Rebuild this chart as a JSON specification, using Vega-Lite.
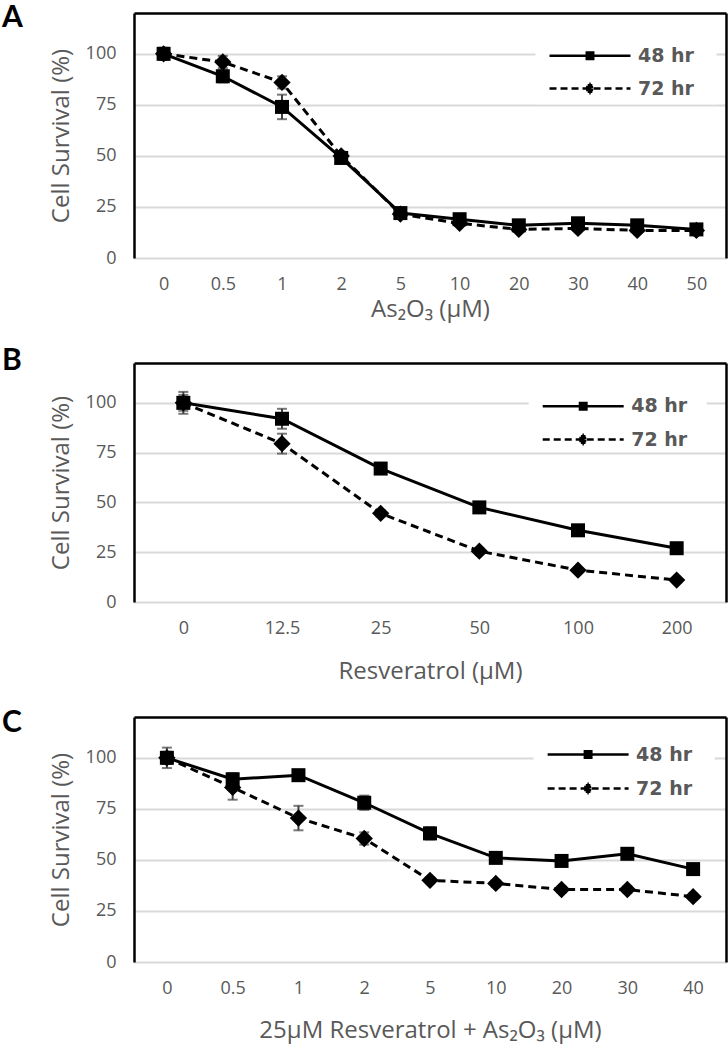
{
  "$schema": "https://vega.github.io/schema/vega-lite/v6.json",
  "background": "white",
  "padding": {"left": 2, "top": 2, "right": 2, "bottom": 2},
  "spacing": 25,
  "resolve": {
    "scale": {"shape": "independent", "strokeDash": "independent"},
    "legend": {"shape": "independent", "strokeDash": "independent"}
  },
  "datasets": {
    "dA": [
      {"x": "0", "series": "48 hr", "v": 100, "e": 3},
      {"x": "0.5", "series": "48 hr", "v": 89, "e": 3},
      {"x": "1", "series": "48 hr", "v": 74, "e": 6},
      {"x": "2", "series": "48 hr", "v": 49, "e": 2},
      {"x": "5", "series": "48 hr", "v": 22, "e": 2},
      {"x": "10", "series": "48 hr", "v": 19, "e": 1.5},
      {"x": "20", "series": "48 hr", "v": 16, "e": 1.5},
      {"x": "30", "series": "48 hr", "v": 17, "e": 1.5},
      {"x": "40", "series": "48 hr", "v": 16, "e": 1.5},
      {"x": "50", "series": "48 hr", "v": 14, "e": 1.5},
      {"x": "0", "series": "72 hr", "v": 100, "e": 2},
      {"x": "0.5", "series": "72 hr", "v": 96, "e": 3},
      {"x": "1", "series": "72 hr", "v": 86, "e": 3},
      {"x": "2", "series": "72 hr", "v": 50, "e": 2},
      {"x": "5", "series": "72 hr", "v": 21.5, "e": 1},
      {"x": "10", "series": "72 hr", "v": 17, "e": 1},
      {"x": "20", "series": "72 hr", "v": 14, "e": 1},
      {"x": "30", "series": "72 hr", "v": 14.5, "e": 1},
      {"x": "40", "series": "72 hr", "v": 13.5, "e": 1},
      {"x": "50", "series": "72 hr", "v": 13.5, "e": 1}
    ],
    "dB": [
      {"x": "0", "series": "48 hr", "v": 100, "e": 5.5},
      {"x": "12.5", "series": "48 hr", "v": 92, "e": 5},
      {"x": "25", "series": "48 hr", "v": 67, "e": 2},
      {"x": "50", "series": "48 hr", "v": 47.5, "e": 1.5},
      {"x": "100", "series": "48 hr", "v": 36, "e": 1.5},
      {"x": "200", "series": "48 hr", "v": 27, "e": 1.5},
      {"x": "0", "series": "72 hr", "v": 100, "e": 4},
      {"x": "12.5", "series": "72 hr", "v": 79.5, "e": 5},
      {"x": "25", "series": "72 hr", "v": 44.5, "e": 1.5},
      {"x": "50", "series": "72 hr", "v": 25.5, "e": 1.5},
      {"x": "100", "series": "72 hr", "v": 16, "e": 1},
      {"x": "200", "series": "72 hr", "v": 11, "e": 1}
    ],
    "dC": [
      {"x": "0", "series": "48 hr", "v": 100, "e": 5},
      {"x": "0.5", "series": "48 hr", "v": 89.5, "e": 3},
      {"x": "1", "series": "48 hr", "v": 91.5, "e": 2},
      {"x": "2", "series": "48 hr", "v": 78, "e": 3.5},
      {"x": "5", "series": "48 hr", "v": 63, "e": 3},
      {"x": "10", "series": "48 hr", "v": 51, "e": 2},
      {"x": "20", "series": "48 hr", "v": 49.5, "e": 2},
      {"x": "30", "series": "48 hr", "v": 53, "e": 2},
      {"x": "40", "series": "48 hr", "v": 45.5, "e": 2},
      {"x": "0", "series": "72 hr", "v": 100, "e": 3},
      {"x": "0.5", "series": "72 hr", "v": 85.5, "e": 6},
      {"x": "1", "series": "72 hr", "v": 70.5, "e": 6},
      {"x": "2", "series": "72 hr", "v": 60.5, "e": 3},
      {"x": "5", "series": "72 hr", "v": 40, "e": 1.5},
      {"x": "10", "series": "72 hr", "v": 38.5, "e": 1.5},
      {"x": "20", "series": "72 hr", "v": 35.5, "e": 1.5},
      {"x": "30", "series": "72 hr", "v": 35.5, "e": 1.5},
      {"x": "40", "series": "72 hr", "v": 32, "e": 1.5}
    ]
  },
  "vconcat": [
    {
      "width": 592,
      "height": 245,
      "title": {"text": "A", "anchor": "start", "frame": "group", "dx": -132, "offset": -19.5},
      "data": {"name": "dA"},
      "layer": [
        {
          "mark": {"type": "errorbar", "ticks": true, "color": "#404040", "size": 10, "thickness": 2, "rule": {"strokeWidth": 2}},
          "encoding": {
            "x": {"field": "x", "type": "ordinal", "axis": null},
            "y": {"field": "v", "type": "quantitative", "axis": null},
            "yError": {"field": "e"}
          }
        },
        {
          "transform": [{"filter": "datum.series == '48 hr'"}],
          "mark": {"type": "line", "color": "black", "strokeWidth": 3},
          "encoding": {
            "x": {"field": "x", "type": "ordinal", "scale": {"type": "point", "padding": 0.5, "domain": ["0", "0.5", "1", "2", "5", "10", "20", "30", "40", "50"]},
              "axis": {"orient": "bottom", "title": "As₂O₃ (µM)", "domain": false, "ticks": false, "grid": false, "labelAngle": 0, "labelFontSize": 18, "labelPadding": 17, "titleFontSize": 24, "titlePadding": 4}},
            "y": {"field": "v", "type": "quantitative", "scale": {"domain": [0, 120], "nice": false},
              "axis": {"orient": "left", "title": "Cell Survival (%)", "values": [0, 25, 50, 75, 100], "domainColor": "black", "domainWidth": 2.5, "ticks": false, "labelPadding": 18, "labelFontSize": 18, "titleFontSize": 24, "titlePadding": 12, "grid": true, "gridColor": "#d9d9d9", "gridWidth": 2}}
          }
        },
        {
          "transform": [{"filter": "datum.series == '72 hr'"}],
          "mark": {"type": "line", "color": "black", "strokeWidth": 3, "strokeDash": [8, 5]},
          "encoding": {
            "x": {"field": "x", "type": "ordinal", "axis": null},
            "y": {"field": "v", "type": "quantitative", "axis": null}
          }
        },
        {
          "transform": [{"filter": "datum.series == '48 hr'"}],
          "mark": {"type": "point", "shape": "square", "filled": true, "color": "black", "size": 196, "opacity": 1},
          "encoding": {
            "x": {"field": "x", "type": "ordinal", "axis": {"orient": "top", "labels": false, "ticks": false, "grid": false, "title": null, "domainColor": "black", "domainWidth": 2.5}},
            "y": {"field": "v", "type": "quantitative", "axis": {"orient": "right", "labels": false, "ticks": false, "grid": false, "title": null, "domainColor": "black", "domainWidth": 2.5}}
          }
        },
        {
          "transform": [{"filter": "datum.series == '72 hr'"}],
          "mark": {"type": "point", "shape": "diamond", "filled": true, "color": "black", "size": 300, "opacity": 1},
          "encoding": {
            "x": {"field": "x", "type": "ordinal", "axis": null},
            "y": {"field": "v", "type": "quantitative", "axis": null}
          }
        },
        {
          "mark": {"type": "point", "opacity": 0, "filled": false, "color": "black"},
          "encoding": {
            "x": {"field": "x", "type": "ordinal", "axis": null},
            "y": {"field": "v", "type": "quantitative", "axis": null},
            "shape": {"field": "series", "type": "nominal", "scale": {"domain": ["48 hr", "72 hr"], "range": ["M-5.06,0H5.06M-0.56,-0.4H0.56M-0.56,-0.2H0.56M-0.56,0.2H0.56M-0.56,0.4H0.56M14.5,0", "M-5.06,0H5.06M-0.09,-0.6H0.09M-0.29,-0.4H0.29M-0.49,-0.2H0.49M-0.69,0H0.69M-0.49,0.2H0.49M-0.29,0.4H0.29M-0.09,0.6H0.09M14.5,0"]},
              "legend": {"title": null, "orient": "none", "legendX": 401.5, "legendY": 28.3, "padding": 5, "fillColor": "white", "symbolSize": 256, "symbolStrokeWidth": 2.5, "symbolStrokeColor": "black", "symbolOpacity": 1, "symbolOffset": 40, "labelFont": "DejaVu Sans", "labelFontWeight": "bold", "labelFontSize": 19, "labelColor": "#595959", "labelOffset": 38.5, "rowPadding": 11.7}},
            "strokeDash": {"field": "series", "type": "nominal", "scale": {"domain": ["48 hr", "72 hr"], "range": [[1, 0], [7, 4]]}}
          }
        }
      ]
    },
    {
      "width": 592,
      "height": 239,
      "title": {"text": "B", "anchor": "start", "frame": "group", "dx": -132, "offset": -13.4},
      "data": {"name": "dB"},
      "layer": [
        {
          "mark": {"type": "errorbar", "ticks": true, "color": "#404040", "size": 10, "thickness": 2, "rule": {"strokeWidth": 2}},
          "encoding": {
            "x": {"field": "x", "type": "ordinal", "axis": null},
            "y": {"field": "v", "type": "quantitative", "axis": null},
            "yError": {"field": "e"}
          }
        },
        {
          "transform": [{"filter": "datum.series == '48 hr'"}],
          "mark": {"type": "line", "color": "black", "strokeWidth": 3},
          "encoding": {
            "x": {"field": "x", "type": "ordinal", "scale": {"type": "point", "padding": 0.5, "domain": ["0", "12.5", "25", "50", "100", "200"]},
              "axis": {"orient": "bottom", "title": "Resveratrol (µM)", "domain": false, "ticks": false, "grid": false, "labelAngle": 0, "labelFontSize": 18, "labelPadding": 17, "titleFontSize": 24, "titlePadding": 22}},
            "y": {"field": "v", "type": "quantitative", "scale": {"domain": [0, 120], "nice": false},
              "axis": {"orient": "left", "title": "Cell Survival (%)", "values": [0, 25, 50, 75, 100], "domainColor": "black", "domainWidth": 2.5, "ticks": false, "labelPadding": 18, "labelFontSize": 18, "titleFontSize": 24, "titlePadding": 12, "grid": true, "gridColor": "#d9d9d9", "gridWidth": 2}}
          }
        },
        {
          "transform": [{"filter": "datum.series == '72 hr'"}],
          "mark": {"type": "line", "color": "black", "strokeWidth": 3, "strokeDash": [8, 5]},
          "encoding": {
            "x": {"field": "x", "type": "ordinal", "axis": null},
            "y": {"field": "v", "type": "quantitative", "axis": null}
          }
        },
        {
          "transform": [{"filter": "datum.series == '48 hr'"}],
          "mark": {"type": "point", "shape": "square", "filled": true, "color": "black", "size": 196, "opacity": 1},
          "encoding": {
            "x": {"field": "x", "type": "ordinal", "axis": {"orient": "top", "labels": false, "ticks": false, "grid": false, "title": null, "domainColor": "black", "domainWidth": 2.5}},
            "y": {"field": "v", "type": "quantitative", "axis": {"orient": "right", "labels": false, "ticks": false, "grid": false, "title": null, "domainColor": "black", "domainWidth": 2.5}}
          }
        },
        {
          "transform": [{"filter": "datum.series == '72 hr'"}],
          "mark": {"type": "point", "shape": "diamond", "filled": true, "color": "black", "size": 300, "opacity": 1},
          "encoding": {
            "x": {"field": "x", "type": "ordinal", "axis": null},
            "y": {"field": "v", "type": "quantitative", "axis": null}
          }
        },
        {
          "mark": {"type": "point", "opacity": 0, "filled": false, "color": "black"},
          "encoding": {
            "x": {"field": "x", "type": "ordinal", "axis": null},
            "y": {"field": "v", "type": "quantitative", "axis": null},
            "shape": {"field": "series", "type": "nominal", "scale": {"domain": ["48 hr", "72 hr"], "range": ["M-5.06,0H5.06M-0.56,-0.4H0.56M-0.56,-0.2H0.56M-0.56,0.2H0.56M-0.56,0.4H0.56M14.5,0", "M-5.06,0H5.06M-0.09,-0.6H0.09M-0.29,-0.4H0.29M-0.49,-0.2H0.49M-0.69,0H0.69M-0.49,0.2H0.49M-0.29,0.4H0.29M-0.09,0.6H0.09M14.5,0"]},
              "legend": {"title": null, "orient": "none", "legendX": 394.7, "legendY": 31.7, "padding": 2, "fillColor": "white", "symbolSize": 256, "symbolStrokeWidth": 2.5, "symbolStrokeColor": "black", "symbolOpacity": 1, "symbolOffset": 43, "labelFont": "DejaVu Sans", "labelFontWeight": "bold", "labelFontSize": 19, "labelColor": "#595959", "labelOffset": 38.5, "rowPadding": 12.3}},
            "strokeDash": {"field": "series", "type": "nominal", "scale": {"domain": ["48 hr", "72 hr"], "range": [[1, 0], [7, 4]]}}
          }
        }
      ]
    },
    {
      "width": 592,
      "height": 245,
      "title": {"text": "C", "anchor": "start", "frame": "group", "dx": -132, "offset": -21.3},
      "data": {"name": "dC"},
      "layer": [
        {
          "mark": {"type": "errorbar", "ticks": true, "color": "#404040", "size": 10, "thickness": 2, "rule": {"strokeWidth": 2}},
          "encoding": {
            "x": {"field": "x", "type": "ordinal", "axis": null},
            "y": {"field": "v", "type": "quantitative", "axis": null},
            "yError": {"field": "e"}
          }
        },
        {
          "transform": [{"filter": "datum.series == '48 hr'"}],
          "mark": {"type": "line", "color": "black", "strokeWidth": 3},
          "encoding": {
            "x": {"field": "x", "type": "ordinal", "scale": {"type": "point", "padding": 0.5, "domain": ["0", "0.5", "1", "2", "5", "10", "20", "30", "40"]},
              "axis": {"orient": "bottom", "title": "25µM Resveratrol + As₂O₃ (µM)", "domain": false, "ticks": false, "grid": false, "labelAngle": 0, "labelFontSize": 18, "labelPadding": 17, "titleFontSize": 24, "titlePadding": 21}},
            "y": {"field": "v", "type": "quantitative", "scale": {"domain": [0, 120], "nice": false},
              "axis": {"orient": "left", "title": "Cell Survival (%)", "values": [0, 25, 50, 75, 100], "domainColor": "black", "domainWidth": 2.5, "ticks": false, "labelPadding": 18, "labelFontSize": 18, "titleFontSize": 24, "titlePadding": 12, "grid": true, "gridColor": "#d9d9d9", "gridWidth": 2}}
          }
        },
        {
          "transform": [{"filter": "datum.series == '72 hr'"}],
          "mark": {"type": "line", "color": "black", "strokeWidth": 3, "strokeDash": [8, 5]},
          "encoding": {
            "x": {"field": "x", "type": "ordinal", "axis": null},
            "y": {"field": "v", "type": "quantitative", "axis": null}
          }
        },
        {
          "transform": [{"filter": "datum.series == '48 hr'"}],
          "mark": {"type": "point", "shape": "square", "filled": true, "color": "black", "size": 196, "opacity": 1},
          "encoding": {
            "x": {"field": "x", "type": "ordinal", "axis": {"orient": "top", "labels": false, "ticks": false, "grid": false, "title": null, "domainColor": "black", "domainWidth": 2.5}},
            "y": {"field": "v", "type": "quantitative", "axis": {"orient": "right", "labels": false, "ticks": false, "grid": false, "title": null, "domainColor": "black", "domainWidth": 2.5}}
          }
        },
        {
          "transform": [{"filter": "datum.series == '72 hr'"}],
          "mark": {"type": "point", "shape": "diamond", "filled": true, "color": "black", "size": 300, "opacity": 1},
          "encoding": {
            "x": {"field": "x", "type": "ordinal", "axis": null},
            "y": {"field": "v", "type": "quantitative", "axis": null}
          }
        },
        {
          "mark": {"type": "point", "opacity": 0, "filled": false, "color": "black"},
          "encoding": {
            "x": {"field": "x", "type": "ordinal", "axis": null},
            "y": {"field": "v", "type": "quantitative", "axis": null},
            "shape": {"field": "series", "type": "nominal", "scale": {"domain": ["48 hr", "72 hr"], "range": ["M-5.06,0H5.06M-0.56,-0.4H0.56M-0.56,-0.2H0.56M-0.56,0.2H0.56M-0.56,0.4H0.56M14.5,0", "M-5.06,0H5.06M-0.09,-0.6H0.09M-0.29,-0.4H0.29M-0.49,-0.2H0.49M-0.69,0H0.69M-0.49,0.2H0.49M-0.29,0.4H0.29M-0.09,0.6H0.09M14.5,0"]},
              "legend": {"title": null, "orient": "none", "legendX": 399.6, "legendY": 23, "padding": 5, "fillColor": "white", "symbolSize": 256, "symbolStrokeWidth": 2.5, "symbolStrokeColor": "black", "symbolOpacity": 1, "symbolOffset": 40, "labelFont": "DejaVu Sans", "labelFontWeight": "bold", "labelFontSize": 19, "labelColor": "#595959", "labelOffset": 38.5, "rowPadding": 13}},
            "strokeDash": {"field": "series", "type": "nominal", "scale": {"domain": ["48 hr", "72 hr"], "range": [[1, 0], [7, 4]]}}
          }
        }
      ]
    }
  ],
  "config": {
    "view": {"stroke": null},
    "axis": {"labelFont": "Open Sans", "titleFont": "Open Sans", "labelColor": "#595959", "titleColor": "#595959", "titleFontWeight": "normal"},
    "title": {"font": "Lato", "fontSize": 30, "fontWeight": "bold", "color": "black"}
  }
}
